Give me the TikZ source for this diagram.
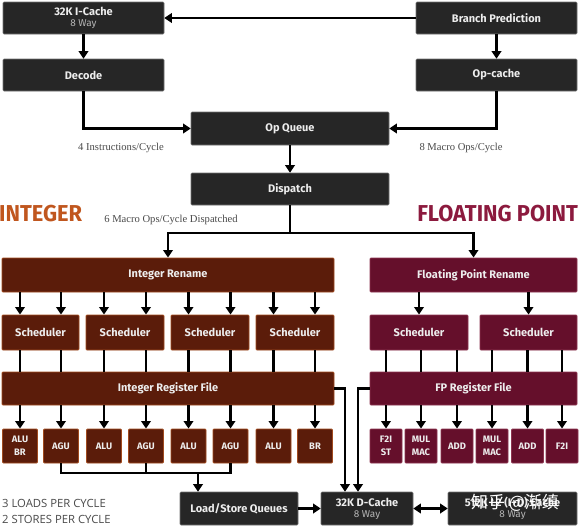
\documentclass[tikz,border=0pt]{standalone}
\usepackage{fontspec}
\usetikzlibrary{arrows.meta}
\setmainfont{Fira Sans}
\newfontfamily\boxf{Fira Sans}
\newfontfamily\titlef{Fira Sans}[FakeStretch=0.95]
\newfontfamily\notef{Liberation Serif}
\newfontfamily\loadf{Open Sans}
\newfontfamily\cjkf{Noto Sans CJK SC}
\definecolor{darkbox}{HTML}{262626}
\definecolor{intfill}{HTML}{5B1C0A}
\definecolor{intedge}{HTML}{A14A1E}
\definecolor{fpfill}{HTML}{650F2B}
\definecolor{fpedge}{HTML}{8D3550}
\definecolor{boxtext}{HTML}{EDEDED}
\definecolor{waygray}{HTML}{B5B5B5}
\definecolor{inttitle}{HTML}{C0561E}
\definecolor{fptitle}{HTML}{8C1A3E}
\definecolor{notegray}{HTML}{4A4A4A}
\tikzset{
  dark/.style={draw=black!55, fill=darkbox, text=boxtext, rounded corners=1pt,
    inner sep=0pt, align=center, line width=0.6pt,
    font=\boxf\bfseries\fontsize{11}{12}\selectfont},
  intbox/.style={dark, fill=intfill, draw=intedge, line width=0.9pt},
  fpbox/.style={dark, fill=fpfill, draw=fpedge, line width=0.9pt},
  unitfont/.style={font=\boxf\bfseries\fontsize{9.4}{13}\selectfont},
  arr/.style={line width=2.6pt, -{Triangle[width=9.5pt,length=7.5pt]}},
  dblarr/.style={line width=2.6pt, {Triangle[width=9.5pt,length=7.5pt]}-{Triangle[width=9.5pt,length=7.5pt]}},
  ln/.style={line width=2.6pt},
  note/.style={text=notegray, font=\notef\fontsize{10.6}{12}\selectfont, inner sep=0pt},
}
\newcommand{\way}{\\[-1pt]{\mdseries\color{waygray}\fontsize{10}{11}\selectfont 8 Way}}
\begin{document}
\begin{tikzpicture}[x=1pt,y=-1pt]
\useasboundingbox[fill=white] (0,0) rectangle (580,528);
% front end
\node[dark, minimum width=161pt, minimum height=32pt] (ic) at (83.5,18) {32K I-Cache\way};
\node[dark, minimum width=161pt, minimum height=32pt] (bp) at (496.5,18) {Branch Prediction};
\node[dark, minimum width=161pt, minimum height=32pt] (dec) at (83.5,75) {Decode};
\node[dark, minimum width=161pt, minimum height=32pt] (opc) at (496.5,75) {Op-cache};
\node[dark, minimum width=198pt, minimum height=33pt] (oq) at (290,128.5) {Op Queue};
\node[dark, minimum width=198pt, minimum height=32pt] (dis) at (290,189) {Dispatch};
% labels
\node[note] (l4) at (121,148) {4 Instructions/Cycle};
\node[note] (l8) at (461,148) {8 Macro Ops/Cycle};
\node[note] (l6) at (171,220) {6 Macro Ops/Cycle Dispatched};
\node[anchor=west, inner sep=0pt, text=inttitle, font=\titlef\bfseries\fontsize{23}{25}\selectfont] (tint) at (-1,214) {INTEGER};
\node[anchor=east, inner sep=0pt, text=fptitle, font=\titlef\bfseries\fontsize{23}{25}\selectfont] (tfp) at (578,214) {FLOATING POINT};
% integer side
\node[intbox, minimum width=332pt, minimum height=34pt] (ir) at (168,275) {Integer Rename};
\node[intbox, minimum width=77pt, minimum height=35pt] (s1) at (40.5,332.5) {Scheduler};
\node[intbox, minimum width=78pt, minimum height=35pt] (s2) at (125,332.5) {Scheduler};
\node[intbox, minimum width=78pt, minimum height=35pt] (s3) at (210,332.5) {Scheduler};
\node[intbox, minimum width=78pt, minimum height=35pt] (s4) at (295,332.5) {Scheduler};
\node[intbox, minimum width=332pt, minimum height=33pt] (irf) at (168,388.5) {Integer Register File};
\foreach \n/\x/\t in {u1/20/{ALU\\BR}, u2/61/AGU, u3/104/ALU, u4/146/AGU, u5/188.5/ALU, u6/230.5/AGU, u7/273.5/ALU, u8/315/BR}
  \node[intbox, unitfont, minimum width=35pt, minimum height=34pt] (\n) at (\x,446) {\t};
% fp side
\node[fpbox, minimum width=207pt, minimum height=34pt] (fr) at (473.5,275) {Floating Point Rename};
\node[fpbox, minimum width=98pt, minimum height=35pt] (fs1) at (419,332.5) {Scheduler};
\node[fpbox, minimum width=97pt, minimum height=35pt] (fs2) at (528.5,332.5) {Scheduler};
\node[fpbox, minimum width=207pt, minimum height=33pt] (frf) at (473.5,388.5) {FP Register File};
\foreach \n/\x/\t in {f1/386/{F2I\\ST}, f2/421/{MUL\\MAC}, f3/457/ADD, f4/492/{MUL\\MAC}, f5/527.5/ADD, f6/562/F2I}
  \node[fpbox, unitfont, minimum width=32pt, minimum height=34pt] (\n) at (\x,446) {\t};
% memory
\node[dark, minimum width=118pt, minimum height=33pt] (lsq) at (239,508.5) {Load/Store Queues};
\node[dark, minimum width=92pt, minimum height=33pt] (dc) at (367,508.5) {32K D-Cache\way};
\node[dark, minimum width=129pt, minimum height=33pt] (l2) at (512.5,508.5) {512K L2 (I+D) Cache\way};
\node[anchor=west, align=left, inner sep=0pt, text=notegray, font=\loadf\fontsize{11.3}{16}\selectfont] (loads) at (2,511) {3 LOADS PER CYCLE\\2 STORES PER CYCLE};
% coordinates
\coordinate (sp) at (290,233);
\coordinate (agj) at (198,473);
\coordinate (xl) at (345,0);
\coordinate (xr) at (358,0);
% front-end connectors
\draw[arr] (bp.west) -- (ic.east);
\draw[arr] (ic.south) -- (dec.north);
\draw[arr] (bp.south) -- (opc.north);
\draw[arr] (dec.south) |- (oq.west);
\draw[arr] (opc.south) |- (oq.east);
\draw[arr] (oq.south) -- (dis.north);
\draw[ln] (dis.south) -- (sp);
\draw[arr] (sp) -| (ir.north);
\draw[arr] (sp) -| (fr.north);
% integer connectors
\foreach \u/\s in {u1/s1,u2/s1,u3/s2,u4/s2,u5/s3,u6/s3,u7/s4,u8/s4}{
  \draw[arr] (ir.south -| \u) -- (\s.north -| \u);
  \draw[ln] (\s.south -| \u) -- (irf.north -| \u);
  \draw[arr] (irf.south -| \u) -- (\u.north);
}
% fp connectors
\draw[arr] (fr.south -| fs1) -- (fs1.north);
\draw[arr] (fr.south -| fs2) -- (fs2.north);
\foreach \u/\s in {f1/fs1,f2/fs1,f3/fs1,f4/fs2,f5/fs2,f6/fs2}{
  \draw[ln] (\s.south -| \u) -- (frf.north -| \u);
  \draw[arr] (frf.south -| \u) -- (\u.north);
}
% AGU to load/store
\draw[ln] (u2.south) |- (agj) -| (u6.south);
\draw[ln] (u4.south) -- (u4.south |- agj);
\draw[arr] (agj) -- (agj |- lsq.north);
% register files to D-cache
\draw[arr] (irf.east) -| (dc.north -| xl);
\draw[arr] (frf.west) -| (dc.north -| xr);
\draw[arr] (lsq.east) -- (dc.west);
\draw[dblarr] (dc.east) -- (l2.west);
% watermark
\node[text=white, inner sep=0pt, font=\cjkf\fontsize{17}{19}\selectfont] (wm) at (515,503) {知乎 @渐缜};
\end{tikzpicture}
\end{document}
